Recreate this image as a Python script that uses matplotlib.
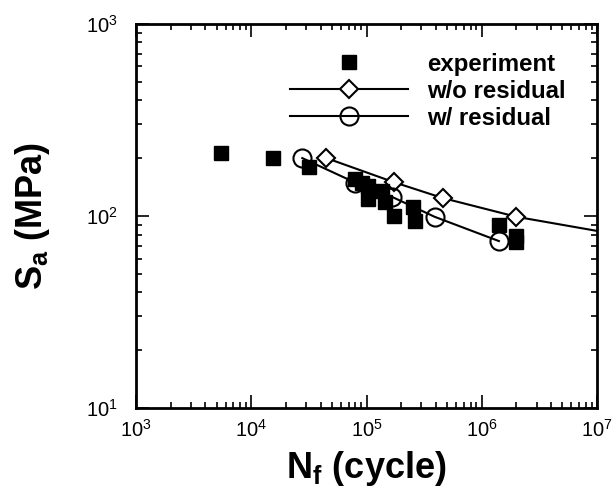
import matplotlib
matplotlib.use("Agg")
import matplotlib.pyplot as plt
from matplotlib.ticker import LogLocator, NullFormatter

plt.rcParams['font.family'] = ['Liberation Sans', 'DejaVu Sans']

# experiment data
exp_N = [5400, 15500, 31900, 80000, 92000, 104000, 135000, 104000, 146000, 172000, 251000, 261000, 1.41e6, 2.0e6, 2.0e6]
exp_S = [213, 200, 180, 156, 148, 143, 135, 123, 118, 100, 111, 94, 90, 79, 73]

# without residual stress (line continues past 1e7)
wo_N = [44900, 172000, 458000, 2.0e6, 1.0e7]
wo_S = [200, 150, 124, 99, 83.6]

# with residual stress
w_N = [27700, 80000, 165000, 390000, 1.41e6]
w_S = [200, 149, 126, 99, 74]

fig = plt.figure(figsize=(6.16, 4.97), dpi=100)
ax = fig.add_axes([0.221, 0.179, 0.748, 0.773])

ax.plot(exp_N, exp_S, ls='none', marker='s', ms=10, color='black',
        label='experiment', zorder=3)
ax.plot(wo_N, wo_S, '-', color='black', lw=1.5, marker='D', ms=9.5,
        mfc='white', mec='black', mew=1.5, markevery=[0, 1, 2, 3],
        label='w/o residual', zorder=2)
ax.plot(w_N, w_S, '-', color='black', lw=1.5, marker='o', ms=13,
        mfc='none', mec='black', mew=1.5, label='w/ residual', zorder=2)

ax.set_xscale('log')
ax.set_yscale('log')
ax.set_xlim(1e3, 1e7)
ax.set_ylim(10, 1000)

for s in ax.spines.values():
    s.set_linewidth(2)

ax.xaxis.set_major_locator(LogLocator(base=10, numticks=10))
ax.xaxis.set_minor_locator(LogLocator(base=10, subs=range(2, 10), numticks=20))
ax.yaxis.set_minor_locator(LogLocator(base=10, subs=range(2, 10), numticks=20))
ax.xaxis.set_minor_formatter(NullFormatter())
ax.yaxis.set_minor_formatter(NullFormatter())

ax.tick_params(which='both', direction='in', top=True, right=True, width=1.2)
ax.tick_params(which='major', length=9.5, labelsize=14.5)
ax.tick_params(axis='x', which='major', pad=8)
ax.tick_params(axis='y', which='major', pad=13)
ax.tick_params(which='minor', length=4.5)

ax.set_xlabel(r'N$_\mathdefault{f}$ (cycle)', fontsize=26, fontweight='bold', labelpad=6)
ax.set_ylabel(r'S$_\mathdefault{a}$ (MPa)', fontsize=26, fontweight='bold', labelpad=25)

leg = ax.legend(loc='upper right', bbox_to_anchor=(0.932, 0.925), frameon=False,
                prop={'weight': 'bold', 'size': 17.3}, handlelength=4.9,
                handletextpad=0.8, labelspacing=0.17, borderpad=0,
                borderaxespad=0)

fig.savefig('out.png', dpi=100)
